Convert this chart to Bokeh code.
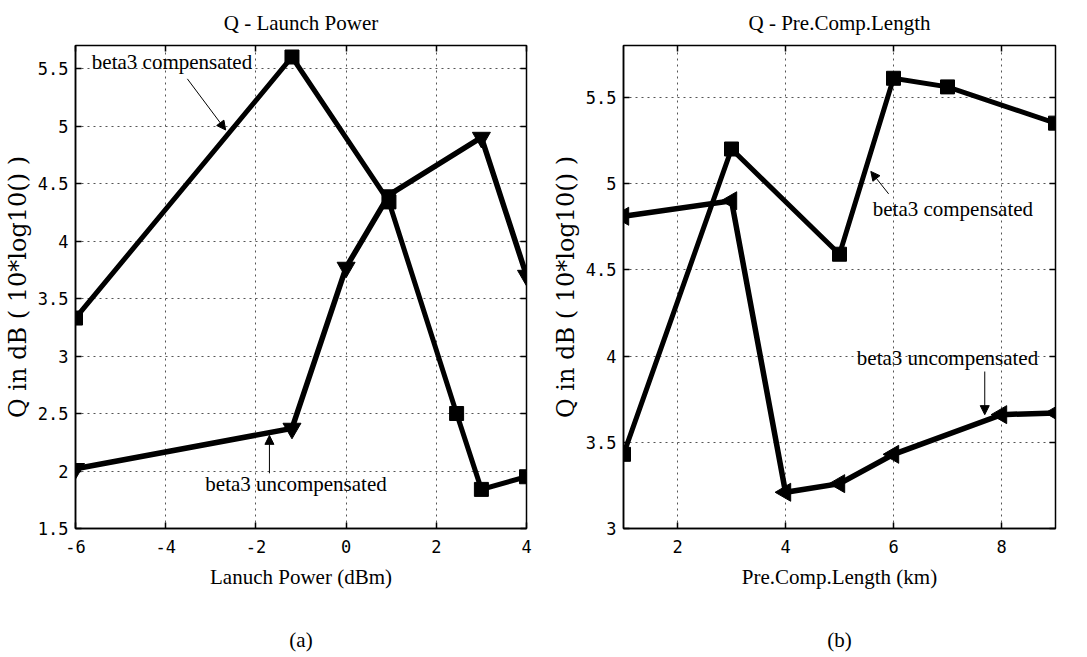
import numpy as np
from bokeh.plotting import figure
from bokeh.layouts import row
from bokeh.models import FixedTicker, LinearAxis, Label, Arrow, NormalHead, Range1d
from bokeh.embed import file_html
from bokeh.resources import INLINE

# ---------------- data: panel (a) Q - Launch Power ----------------
lp_comp_x = [-6, -1.2, 0.95, 2.45, 3, 4]
lp_comp_y = [3.33, 5.6, 4.34, 2.5, 1.84, 1.95]
lp_unc_x = [-6, -1.2, 0, 0.95, 3, 4]
lp_unc_y = [2.02, 2.37, 3.77, 4.4, 4.9, 3.7]
lp_xticks = [-6, -4, -2, 0, 2, 4]
lp_yticks = [1.5, 2, 2.5, 3, 3.5, 4, 4.5, 5, 5.5]

# ---------------- data: panel (b) Q - Pre.Comp.Length ----------------
pc_comp_x = [1, 3, 5, 6, 7, 9]
pc_comp_y = [3.43, 5.2, 4.59, 5.61, 5.56, 5.35]
pc_unc_x = [1, 3, 4, 5, 6, 8, 9]
pc_unc_y = [4.81, 4.9, 3.21, 3.26, 3.43, 3.66, 3.67]
pc_xticks = [2, 4, 6, 8]
pc_yticks = [3, 3.5, 4, 4.5, 5, 5.5]

SERIF = "Liberation Serif"
MONO = "DejaVu Sans Mono"


def fmt(ticks):
    return {(int(t) if float(t).is_integer() else t): (str(int(t)) if float(t).is_integer() else str(t)) for t in ticks}


def bare_axis(ticks, label="", standoff=0, ticks_on=True):
    return LinearAxis(ticker=FixedTicker(ticks=ticks), major_tick_in=6 if ticks_on else 0,
                      major_tick_out=0, minor_tick_line_color=None, axis_line_color=None,
                      major_tick_line_color="black" if ticks_on else None, major_tick_line_width=1.5,
                      major_label_text_font_size="1px", major_label_text_color=None,
                      major_label_standoff=0, axis_label=label, axis_label_standoff=standoff,
                      axis_label_text_font=SERIF, axis_label_text_font_size="21px",
                      axis_label_text_font_style="normal", axis_label_text_color="black")


def make_panel(title, xlabel, sub, xr, yr, xticks, yticks, width, bl, br):
    p = figure(width=width, height=657, x_range=Range1d(*xr), y_range=Range1d(*yr),
               output_backend="svg", toolbar_location=None, tools="",
               min_border_left=bl, min_border_right=br, min_border_top=45, min_border_bottom=129)
    p.background_fill_color = "white"
    p.border_fill_color = "white"
    p.outline_line_color = "black"
    p.outline_line_width = 1.5

    xa = p.xaxis[0]
    ya = p.yaxis[0]
    xa.ticker = FixedTicker(ticks=xticks)
    ya.ticker = FixedTicker(ticks=yticks)
    xa.major_label_overrides = fmt(xticks)
    ya.major_label_overrides = fmt(yticks)
    for ax in (xa, ya):
        ax.major_tick_in = 6
        ax.major_tick_out = 0
        ax.minor_tick_line_color = None
        ax.axis_line_color = "black"
        ax.axis_line_width = 1.5
        ax.major_tick_line_color = "black"
        ax.major_tick_line_width = 1.5
        ax.major_label_text_font = MONO
        ax.major_label_text_font_size = "17px"
        ax.major_label_text_color = "black"
        ax.axis_label_text_font = SERIF
        ax.axis_label_text_font_style = "normal"
        ax.axis_label_text_color = "black"
    xa.axis_label = xlabel
    xa.axis_label_text_font_size = "21px"
    xa.major_label_standoff = 11
    xa.axis_label_standoff = 9
    ya.axis_label = "Q in dB ( 10*log10() )"
    ya.axis_label_text_font = "DejaVu Serif"
    ya.axis_label_text_font_size = "24px"
    ya.major_label_standoff = 7
    ya.axis_label_standoff = 3

    # top: mirrored ticks, carrying the panel title as its label
    p.add_layout(bare_axis(xticks, title, 11), "above")
    # right: mirrored ticks
    p.add_layout(bare_axis(yticks), "right")
    # bottom: sub-caption (a)/(b)
    p.add_layout(bare_axis([], sub, 36, ticks_on=False), "below")

    p.xgrid.ticker = FixedTicker(ticks=xticks)
    p.ygrid.ticker = FixedTicker(ticks=yticks)
    p.grid.grid_line_color = "#555555"
    p.grid.grid_line_dash = "2 4"
    p.grid.grid_line_width = 1
    return p


head = dict(size=9, fill_color="black", line_color="black")
lab = dict(text_font=SERIF, text_font_size="21px", text_align="center", text_baseline="middle",
           text_color="black")

# ---------------- panel (a) ----------------
p1 = make_panel("Q - Launch Power", "Lanuch Power (dBm)", "(a)", (-6, 4), (1.5, 5.7),
                lp_xticks, lp_yticks, 545, 75, 19)
p1.line(lp_comp_x, lp_comp_y, line_color="black", line_width=5, line_join="miter")
p1.scatter(lp_comp_x, lp_comp_y, marker="square", size=14, color="black")
p1.line(lp_unc_x, lp_unc_y, line_color="black", line_width=5.5, line_join="miter")
p1.scatter(lp_unc_x, lp_unc_y, marker="inverted_triangle", size=18, color="black")

p1.add_layout(Label(x=-3.86, y=5.56, text="beta3 compensated", **lab))
p1.add_layout(Arrow(x_start=-3.52, y_start=5.41, x_end=-2.67, y_end=4.965, line_width=1,
                    line_color="black", end=NormalHead(**head)))
p1.add_layout(Label(x=-1.11, y=1.89, text="beta3 uncompensated", **lab))
p1.add_layout(Arrow(x_start=-1.70, y_start=1.98, x_end=-1.70, y_end=2.31, line_width=1,
                    line_color="black", end=NormalHead(**head)))

# ---------------- panel (b) ----------------
p2 = make_panel("Q - Pre.Comp.Length", "Pre.Comp.Length (km)", "(b)", (1, 9), (3, 5.8),
                pc_xticks, pc_yticks, 542, 78, 32)
p2.line(pc_comp_x, pc_comp_y, line_color="black", line_width=5, line_join="miter")
p2.scatter(pc_comp_x, pc_comp_y, marker="square", size=14, color="black")
p2.line(pc_unc_x, pc_unc_y, line_color="black", line_width=5.5, line_join="miter")
p2.scatter(pc_unc_x, pc_unc_y, marker="triangle", angle=np.pi / 2, size=18, color="black")

p2.add_layout(Label(x=7.1, y=4.85, text="beta3 compensated", **lab))
p2.add_layout(Arrow(x_start=5.91, y_start=4.94, x_end=5.58, y_end=5.07, line_width=1,
                    line_color="black", end=NormalHead(**head)))
p2.add_layout(Label(x=7.0, y=3.99, text="beta3 uncompensated", **lab))
p2.add_layout(Arrow(x_start=7.69, y_start=3.91, x_end=7.69, y_end=3.66, line_width=1,
                    line_color="black", end=NormalHead(**head)))

layout = row(p1, p2)
open("out.html", "w").write(file_html(layout, INLINE))
